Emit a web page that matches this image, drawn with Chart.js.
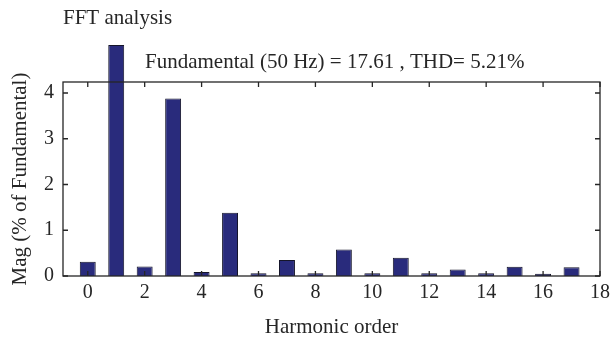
<!DOCTYPE html>
<html>
<head>
<meta charset="utf-8">
<script src="https://cdn.jsdelivr.net/npm/chart.js@4"></script>
<style>
  body { margin: 0; background: #fff; }
  canvas { display: block; }
</style>
</head>
<body>
<canvas id="myChart" width="615" height="338"></canvas>
<script>
// harmonic orders and magnitudes (% of fundamental)
const orders = [0, 1, 2, 3, 4, 5, 6, 7, 8, 9, 10, 11, 12, 13, 14, 15, 16, 17]
const mags = [0.31, 5.05, 0.21, 3.88, 0.09, 1.38, 0.06, 0.35, 0.06, 0.58, 0.06, 0.40, 0.06, 0.14, 0.06, 0.20, 0.05, 0.19]
const plotTitle = 'FFT analysis'
const note = 'Fundamental (50 Hz) = 17.61 , THD= 5.21%'

const serif = "'Liberation Serif', 'DejaVu Serif', serif"
const ink = '#262626'

const ctx = document.getElementById('myChart')

// frame with inward tick marks, plus the two loose text lines
const frame = {
    id: 'frame',
    afterDatasetsDraw(chart) {
        const c = chart.ctx
        const a = chart.chartArea
        const xs = chart.scales.x
        const ys = chart.scales.y
        const len = 5
        c.save()
        c.strokeStyle = ink
        c.lineWidth = 1.3
        c.strokeRect(a.left, a.top, a.right - a.left, a.bottom - a.top)
        c.beginPath()
        xs.ticks.forEach(t => {
            const px = xs.getPixelForValue(t.value)
            c.moveTo(px, a.bottom); c.lineTo(px, a.bottom - len)
            c.moveTo(px, a.top); c.lineTo(px, a.top + len)
        })
        ys.ticks.forEach(t => {
            const py = ys.getPixelForValue(t.value)
            c.moveTo(a.left, py); c.lineTo(a.left + len, py)
            c.moveTo(a.right, py); c.lineTo(a.right - len, py)
        })
        c.stroke()
        c.fillStyle = ink
        c.font = '21px ' + serif
        c.textBaseline = 'middle'
        c.textAlign = 'left'
        c.fillText(plotTitle, 63, 18)
        c.fillText(note, 145, 62)
        c.restore()
    }
}

const data = {
    datasets: [{
        data: orders.map((o, i) => ({x: o, y: mags[i]})),
        backgroundColor: '#292b7c',
        borderColor: '#15152a',
        borderWidth: 1,
        barPercentage: 0.8,
        categoryPercentage: 0.7,
        clip: false
    }]
}

const config = {
    type: 'bar',
    data: data,
    options: {
        responsive: false,
        animation: false,
        layout: { padding: { top: 82, right: 9, left: 0, bottom: 0 } },
        plugins: { legend: { display: false }, tooltip: { enabled: false } },
        scales: {
            x: {
                type: 'linear',
                min: -0.87,
                max: 18,
                offset: false,
                grid: { display: false, drawTicks: false },
                border: { display: false },
                ticks: { stepSize: 2, includeBounds: false, padding: 5, color: ink, font: { family: serif, size: 20 } },
                title: { display: true, text: 'Harmonic order', color: ink, font: { family: serif, size: 21 }, padding: { top: 0, bottom: -2 } },
                afterFit(s) { s.height = 62 }
            },
            y: {
                min: 0,
                max: 4.24,
                grid: { display: false, drawTicks: false },
                border: { display: false },
                ticks: { stepSize: 1, includeBounds: false, padding: 9, color: ink, font: { family: serif, size: 20 } },
                title: { display: true, text: 'Mag (% of Fundamental)', color: ink, font: { family: serif, size: 21 }, padding: { top: 8, bottom: 0 } },
                afterFit(s) { s.width = 63 }
            }
        }
    },
    plugins: [frame]
}

const myChart = new Chart(ctx, config)
</script>
</body>
</html>
